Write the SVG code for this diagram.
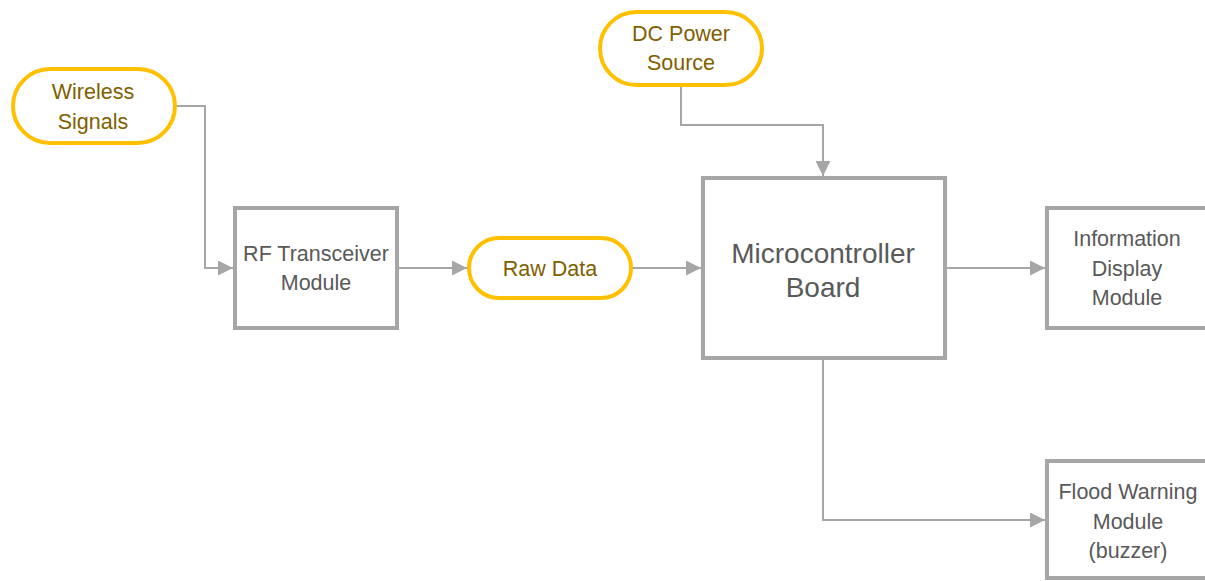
<svg xmlns="http://www.w3.org/2000/svg" width="1205" height="581" viewBox="0 0 1205 581">
<style>
.pill{fill:#fff;stroke:#FFC000;stroke-width:4}
.box{fill:#fff;stroke:#A6A6A6;stroke-width:4}
.pt{font-family:"Liberation Sans",Arial,sans-serif;font-size:21.5px;fill:#7F6000;text-anchor:middle}
.bt{font-family:"Liberation Sans",Arial,sans-serif;font-size:21.5px;fill:#595959;text-anchor:middle}
.big{font-size:28px}
.con{fill:none;stroke:#A6A6A6;stroke-width:2;marker-end:url(#arr)}
</style>
<defs>
<marker id="arr" viewBox="0 0 10 10" refX="10" refY="5" markerWidth="7.5" markerHeight="7.5" markerUnits="strokeWidth" orient="auto">
<path d="M0,0 L10,5 L0,10 Z" fill="#A6A6A6"/>
</marker>
</defs>
<rect width="1205" height="581" fill="#fff"/>
<g id="connectors">
<path class="con" d="M175,106 H205 V268 H233"/>
<path class="con" d="M398,268 H467"/>
<path class="con" d="M632,268 H701"/>
<path class="con" d="M681,85 V125 H823 V176"/>
<path class="con" d="M946,268 H1045"/>
<path class="con" d="M823,359 V520 H1045"/>
</g>
<g id="wireless">
<rect class="pill" x="13" y="69" width="162" height="74" rx="37"/>
<text class="pt" x="93" y="99">Wireless</text>
<text class="pt" x="93" y="129">Signals</text>
</g>
<g id="rf">
<rect class="box" x="235" y="208" width="162" height="120"/>
<text class="bt" x="316" y="261">RF Transceiver</text>
<text class="bt" x="316" y="290">Module</text>
</g>
<g id="rawdata">
<rect class="pill" x="469" y="238" width="162" height="60" rx="30"/>
<text class="pt" x="550" y="276">Raw Data</text>
</g>
<g id="dcpower">
<rect class="pill" x="600" y="12" width="162" height="73" rx="36.5"/>
<text class="pt" x="681" y="41">DC Power</text>
<text class="pt" x="681" y="70">Source</text>
</g>
<g id="micro">
<rect class="box" x="703" y="178" width="242" height="180"/>
<text class="bt big" x="823" y="263">Microcontroller</text>
<text class="bt big" x="823" y="297">Board</text>
</g>
<g id="display">
<rect class="box" x="1047" y="208" width="162" height="120"/>
<text class="bt" x="1127" y="246">Information</text>
<text class="bt" x="1127" y="275.5">Display</text>
<text class="bt" x="1127" y="305">Module</text>
</g>
<g id="flood">
<rect class="box" x="1047" y="461" width="162" height="117"/>
<text class="bt" x="1128" y="499">Flood Warning</text>
<text class="bt" x="1128" y="529">Module</text>
<text class="bt" x="1128" y="558">(buzzer)</text>
</g>
</svg>
